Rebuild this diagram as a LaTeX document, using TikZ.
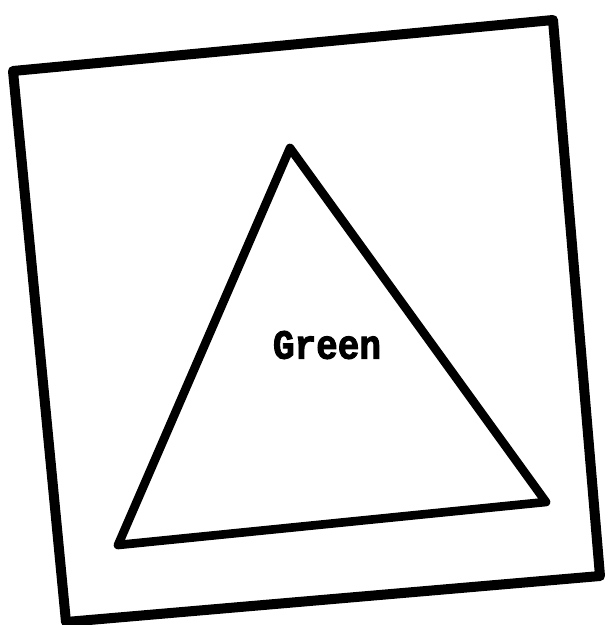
\documentclass[tikz,border=0pt]{standalone}
\usepackage{fontspec}
\newfontfamily\labelfont[BoldFeatures={FakeBold=2.5}]{Liberation Mono}
\usetikzlibrary{positioning}

\begin{document}
\begin{tikzpicture}[x=0.75pt,y=0.75pt,yscale=-1,xscale=1]
\useasboundingbox (0,0) rectangle (609,625);

%Shape: Square [id:frame]
\draw [line width=7.5, line join=round] (13,71) -- (553,20) -- (600,576) -- (66,622) -- cycle ;
%Shape: Triangle [id:tri]
\draw [line width=6.5, line join=round] (290,148) -- (546,502) -- (118,545) -- cycle ;

% Text Node
\draw (327,345) node [inner sep=0.75pt, yscale=1.15] (green) {\labelfont\bfseries\fontsize{27}{27}\selectfont Green};

\end{tikzpicture}
\end{document}
